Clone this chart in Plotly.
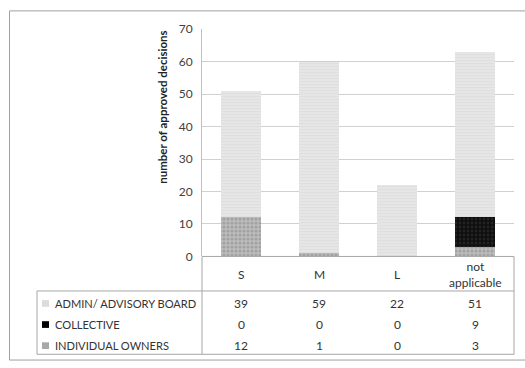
import plotly.graph_objects as go

# Decision-maker counts by company size
categories = ["S", "M", "L", "not applicable"]
category_labels = ["S", "M", "L", "not<br>applicable"]
series_names = ["ADMIN/ ADVISORY BOARD", "COLLECTIVE", "INDIVIDUAL OWNERS"]
admin_board = [39, 59, 22, 51]
collective = [0, 0, 0, 9]
individual_owners = [12, 1, 0, 3]
y_ticks = [0, 10, 20, 30, 40, 50, 60, 70]

W, H = 525, 368
FONT = "Lato"
TXT = "#333333"
LINE = "#a6a6a6"


def px(x):
    return x / W


def py(y):
    return 1 - y / H


fig = go.Figure()

# stacked bars, bottom to top
fig.add_trace(go.Bar(
    x=categories, y=individual_owners, name=series_names[2],
    marker=dict(color="#b4b4b4", line=dict(width=0),
                pattern=dict(shape=".", bgcolor="#bdbdbd", fgcolor="#858585",
                             size=4, solidity=0.5, fillmode="overlay")),
))
fig.add_trace(go.Bar(
    x=categories, y=collective, name=series_names[1],
    marker=dict(color="#111111", line=dict(width=0),
                pattern=dict(shape=".", bgcolor="#0d0d0d", fgcolor="#3a3a3a",
                             size=4, solidity=0.4, fillmode="overlay")),
))
fig.add_trace(go.Bar(
    x=categories, y=admin_board, name=series_names[0],
    marker=dict(color="#e4e4e4", line=dict(width=0),
                pattern=dict(shape="-", bgcolor="#e6e6e6", fgcolor="#d6d6d6",
                             size=3, solidity=0.35, fillmode="overlay")),
))

x0, x1 = 202, 514
y_top, y_zero = 22, 259

fig.update_layout(
    width=W, height=H,
    margin=dict(l=0, r=0, t=0, b=0),
    paper_bgcolor="white", plot_bgcolor="white",
    barmode="stack", bargap=0.49,
    showlegend=False,
    font=dict(family=FONT, size=12, color=TXT),
    xaxis=dict(domain=[px(x0), px(x1)], showticklabels=False, showgrid=False,
               zeroline=False, showline=False, ticks=""),
    yaxis=dict(domain=[py(y_zero), py(y_top)], range=[0, 70], tickvals=y_ticks,
               showgrid=True, gridcolor="#d0d0d0", gridwidth=1,
               zeroline=False, showline=True, linecolor="#c0c0c0", linewidth=1,
               ticks="", tickfont=dict(family=FONT, size=12, color="#404040"),
               ticklabelstandoff=6),
)

shapes = []


def hline(xa, xb, y, color=LINE):
    shapes.append(dict(type="line", xref="paper", yref="paper",
                       x0=px(xa), x1=px(xb), y0=py(y), y1=py(y),
                       line=dict(color=color, width=1)))


def vline(x, ya, yb, color=LINE):
    shapes.append(dict(type="line", xref="paper", yref="paper",
                       x0=px(x), x1=px(x), y0=py(ya), y1=py(yb),
                       line=dict(color=color, width=1)))


# outer chart frame
shapes.append(dict(type="rect", xref="paper", yref="paper",
                   x0=px(9.5), x1=px(540), y0=py(367), y1=py(3),
                   line=dict(color="#a0a0a0", width=1)))

# data table grid
header_bottom, table_bottom, key_left = 295, 361, 37
hline(x0, x1, y_zero)
hline(key_left, x1, header_bottom)
hline(key_left, x1, table_bottom)
vline(x0, y_zero, table_bottom)
vline(x1, y_zero, table_bottom)
vline(key_left, header_bottom, table_bottom)

# legend keys in the table
row_y = [308, 330, 352]
key_colors = ["#dcdcdc", "#000000", "#a8a8a8"]
for ry, kc in zip(row_y, key_colors):
    shapes.append(dict(type="rect", xref="paper", yref="paper",
                       x0=px(42), x1=px(49), y0=py(ry + 3.5), y1=py(ry - 3.5),
                       fillcolor=kc, line=dict(width=0)))

fig.update_layout(shapes=shapes)

annotations = []
# category header row
for cat, lab in zip(categories, category_labels):
    annotations.append(dict(x=cat, xref="x", y=py(278), yref="paper",
                            text=lab, showarrow=False, xanchor="center",
                            yanchor="middle", font=dict(size=12, color=TXT)))

# value rows
for ry, name, vals in zip(row_y, series_names,
                          [admin_board, collective, individual_owners]):
    annotations.append(dict(x=px(53), xref="paper", y=py(ry), yref="paper",
                            text=name, showarrow=False, xanchor="left",
                            yanchor="middle", font=dict(size=11.1, color=TXT)))
    for cat, v in zip(categories, vals):
        annotations.append(dict(x=cat, xref="x", y=py(ry), yref="paper",
                                text=str(v), showarrow=False, xanchor="center",
                                yanchor="middle", font=dict(size=12, color=TXT)))

# y-axis title
annotations.append(dict(x=px(163), xref="paper", y=py(104), yref="paper",
                        text="<b>number of approved decisions</b>", textangle=-90,
                        showarrow=False, xanchor="center", yanchor="middle",
                        font=dict(size=11.5, color="#222222")))

fig.update_layout(annotations=annotations)

fig.write_html("out.html")
